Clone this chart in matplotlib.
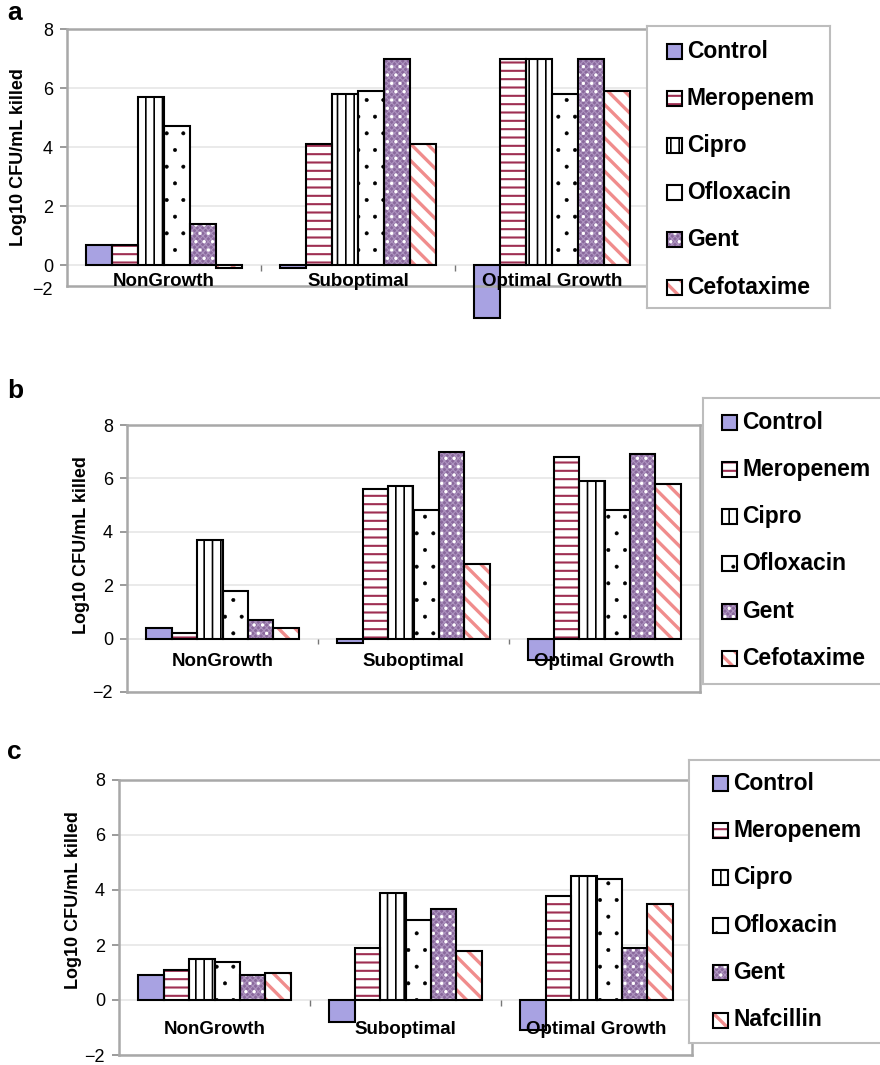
import matplotlib
matplotlib.use("Agg")
import matplotlib.pyplot as plt
from matplotlib.patches import Rectangle
import numpy as np

plt.rcParams['font.family'] = ['Liberation Sans', 'DejaVu Sans']

# data (log10 CFU/mL killed)
categories = ["NonGrowth", "Suboptimal", "Optimal Growth"]
drugs_ab = ["Control", "Meropenem", "Cipro", "Ofloxacin", "Gent", "Cefotaxime"]
drugs_c = ["Control", "Meropenem", "Cipro", "Ofloxacin", "Gent", "Nafcillin"]

# rows = drugs, columns = categories
values_a = [
    [0.7, -0.1, -1.8],
    [0.7, 4.1, 7.0],
    [5.7, 5.8, 7.0],
    [4.7, 5.9, 5.8],
    [1.4, 7.0, 7.0],
    [-0.1, 4.1, 5.9],
]
values_b = [
    [0.4, -0.15, -0.8],
    [0.2, 5.6, 6.8],
    [3.7, 5.7, 5.9],
    [1.8, 4.8, 4.8],
    [0.7, 7.0, 6.9],
    [0.4, 2.8, 5.8],
]
values_c = [
    [0.9, -0.8, -1.1],
    [1.1, 1.9, 3.8],
    [1.5, 3.9, 4.5],
    [1.4, 2.9, 4.4],
    [0.9, 3.3, 1.9],
    [1.0, 1.8, 3.5],
]

# fill / hatch layers for each series, same order as the drug lists
# each layer: (hatch, hatch colour, hatch linewidth)
styles = [
    dict(face="#a8a2e2", layers=[]),
    dict(face="white", layers=[("--", "#9e2f52", 1.5)]),
    dict(face="white", layers=[("||", "black", 1.2)]),
    dict(face="white", layers=[(".", "black", 0.4)]),
    dict(face="#8a699d", layers=[("xxxxxx", "#ad93bf", 0.8), ("..", "white", 1.2)]),
    dict(face="white", layers=[("\\\\", "#f08c8c", 2.4)]),
]

W, H = 880, 1065
fig = plt.figure(figsize=(W / 100, H / 100), dpi=100)


def px_rect(left, top, right, bottom):
    return [left / W, 1 - bottom / H, (right - left) / W, (bottom - top) / H]


def set_hatch_lw(patches, lw):
    for p in patches:
        if hasattr(p, "set_hatch_linewidth"):
            p.set_hatch_linewidth(lw)


def styled_bar(ax, x, h, w, st):
    ax.bar(x, h, w, color=st["face"], linewidth=0, clip_on=False, zorder=2)
    for hatch, hc, lw in st["layers"]:
        # hatch width is taken from rcParams when the patch is made
        with plt.rc_context({"hatch.linewidth": lw}):
            bars = ax.bar(x, h, w, fill=False, edgecolor=hc, hatch=hatch,
                          linewidth=0, clip_on=False, zorder=2)
        set_hatch_lw(bars, lw)
    ax.bar(x, h, w, fill=False, edgecolor="black", linewidth=1.5,
           clip_on=False, zorder=3)


def draw_panel(rect, values, ylim, label_off):
    ax = fig.add_axes(px_rect(*rect))
    n = len(values)
    w = 0.8 / n
    xs = np.arange(len(categories))
    for j, vals in enumerate(values):
        styled_bar(ax, xs + (j - (n - 1) / 2) * w, vals, w, styles[j])

    ax.set_xlim(-0.5, len(categories) - 0.5)
    ax.set_ylim(*ylim)
    ticks = [t for t in [-2, 0, 2, 4, 6, 8] if t >= ylim[0]]
    ax.set_yticks(ticks)
    ax.set_yticklabels([str(t).replace("-", "\u2212") for t in ticks])
    ax.set_xticks([])
    ax.set_axisbelow(True)
    ax.yaxis.grid(True, color="#e6e6e6", lw=1.2)
    ax.tick_params(axis="y", direction="out", length=5, width=1.2,
                   color="#8a8a8a", pad=5, labelsize=13)
    for s in ax.spines.values():
        s.set_color("#a8a8a8")
        s.set_linewidth(1.8)

    # small separators between categories, hanging under the zero line
    ax.vlines(xs[:-1] + 0.5, -0.2, 0, color="#777777", lw=1, zorder=1)
    for i, cat in enumerate(categories):
        ax.annotate(cat, xy=(i, 0), xytext=(0, -label_off), textcoords="offset points",
                    ha="center", va="center", fontsize=13.5, fontweight="bold", zorder=4)

    ax.set_ylabel("Log10 CFU/mL killed", fontsize=13, fontweight="bold")
    ax.yaxis.label.set_va("center")
    return ax


def draw_legend(box, names, hx, tx, y0, pitch):
    lax = fig.add_axes(px_rect(*box))
    lax.set_xlim(box[0], box[2])
    lax.set_ylim(box[3], box[1])
    lax.set_xticks([])
    lax.set_yticks([])
    for s in lax.spines.values():
        s.set_color("#bdbdbd")
        s.set_linewidth(1.5)
    size = 15
    for i, name in enumerate(names):
        yc = y0 + i * pitch
        st = styles[i]
        lax.add_patch(Rectangle((hx, yc - size / 2), size, size,
                                facecolor=st["face"], linewidth=0))
        for hatch, hc, lw in st["layers"]:
            with plt.rc_context({"hatch.linewidth": lw}):
                p = Rectangle((hx, yc - size / 2), size, size, fill=False,
                              edgecolor=hc, hatch=hatch, linewidth=0)
            set_hatch_lw([p], lw)
            lax.add_patch(p)
        lax.add_patch(Rectangle((hx, yc - size / 2), size, size, fill=False,
                                edgecolor="black", linewidth=1.5))
        lax.text(tx, yc, name, ha="left", va="center", fontsize=16.5, fontweight="bold")
    return lax


# panel a
ax_a = draw_panel((67, 29, 649, 286), values_a, (-0.7, 8), 12)
ax_a.yaxis.set_label_coords(-0.084, 0.5)
ax_a.annotate("\u22122", xy=(0, 0), xycoords="axes fraction", xytext=(-10, -3),
              textcoords="offset points", ha="right", va="center", fontsize=13)
draw_legend((647, 26, 830, 308), drugs_ab, 667, 687, 51, 47.2)

# panel b
ax_b = draw_panel((127, 425, 700, 692), values_b, (-2, 8), 16.5)
ax_b.yaxis.set_label_coords(-0.080, 0.55)
draw_legend((703, 398, 900, 684), drugs_ab, 722, 742, 422, 47.3)

# panel c
ax_c = draw_panel((119, 780, 692, 1055), values_c, (-2, 8), 21)
ax_c.yaxis.set_label_coords(-0.080, 0.564)
draw_legend((689, 760, 900, 1043), drugs_c, 713, 733, 783, 47.4)

# panel letters
for letter, y in [("a", 20), ("b", 398), ("c", 759)]:
    fig.text(7 / W, 1 - y / H, letter, fontsize=19, fontweight="bold",
             ha="left", va="baseline")

fig.savefig("out.png", dpi=100)
